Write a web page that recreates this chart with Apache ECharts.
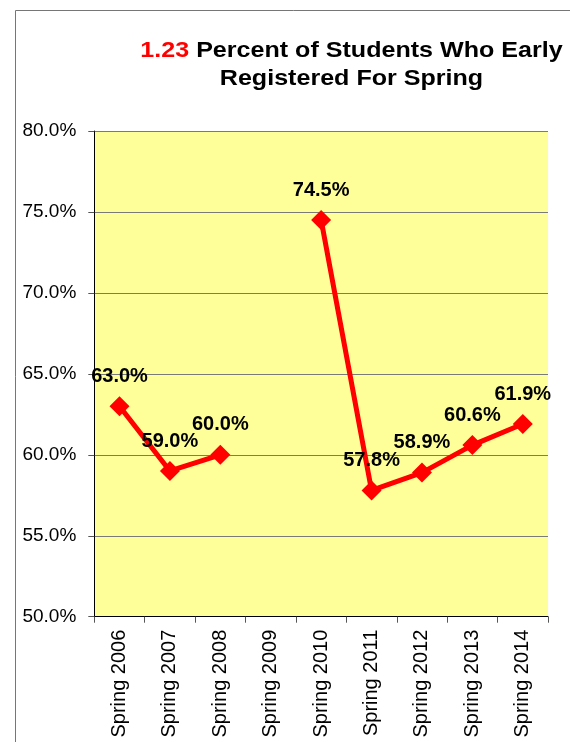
<!DOCTYPE html>
<html>
<head>
<meta charset="utf-8">
<script src="https://cdn.jsdelivr.net/npm/echarts@6/dist/echarts.min.js"></script>
<style>
html,body{margin:0;padding:0;background:#fff;}
#chart{width:570px;height:742px;}
</style>
</head>
<body>
<div id="chart"></div>
<script>
// ---- data ----
const categories = ['Spring 2006','Spring 2007','Spring 2008','Spring 2009','Spring 2010','Spring 2011','Spring 2012','Spring 2013','Spring 2014'];
const percentValues = [63.0, 59.0, 60.0, null, 74.5, 57.8, 58.9, 60.6, 61.9];
const yTicks = { min: 50, max: 80, step: 5 };
const titleNumber = '1.23';
const titleLine1 = 'Percent of Students Who Early';
const titleLine2 = 'Registered For Spring';

const FONT = '"Liberation Sans", Arial, sans-serif';
const chart = echarts.init(document.getElementById('chart'), null, {renderer: 'canvas'});

chart.setOption({
  animation: false,
  backgroundColor: '#ffffff',
  graphic: [
    {
      type: 'rect',
      silent: true,
      shape: { x: 15.5, y: 10.5, width: 800, height: 900 },
      style: { fill: null, stroke: '#767676', lineWidth: 1 }
    },
    {
      type: 'text',
      silent: true,
      x: 351.5,
      y: 36.5,
      scaleX: 1.14,
      style: {
        text: '{r|' + titleNumber + '} ' + titleLine1 + '\n' + titleLine2,
        align: 'center',
        verticalAlign: 'top',
        font: 'bold 22px ' + FONT,
        lineHeight: 28.5,
        fill: '#000000',
        rich: {
          r: { fill: '#ff0000', font: 'bold 22px ' + FONT, lineHeight: 28.5 }
        }
      }
    }
  ],
  grid: {
    left: 94.3,
    right: 22,
    top: 131,
    bottom: 125.3,
    show: true,
    backgroundColor: '#FFFF99',
    borderWidth: 0,
    containLabel: false
  },
  xAxis: {
    type: 'category',
    data: categories,
    boundaryGap: true,
    axisLine: { show: true, lineStyle: { color: '#000000', width: 1 } },
    axisTick: { show: true, length: 6, inside: false, alignWithLabel: false, lineStyle: { color: '#555555' } },
    axisLabel: {
      rotate: 90,
      margin: 13,
      interval: 0,
      color: '#000000',
      fontFamily: FONT,
      fontSize: 20
    },
    splitLine: { show: false }
  },
  yAxis: {
    type: 'value',
    min: yTicks.min,
    max: yTicks.max,
    interval: yTicks.step,
    axisLine: { show: true, lineStyle: { color: '#000000', width: 1 } },
    axisTick: { show: true, length: 6, inside: false, lineStyle: { color: '#555555' } },
    axisLabel: {
      margin: 18,
      color: '#000000',
      fontFamily: FONT,
      fontSize: 19,
      formatter: v => v.toFixed(1) + '%'
    },
    splitLine: { show: true, lineStyle: { color: '#7a7a7a', width: 1 } }
  },
  series: [{
    type: 'line',
    data: percentValues,
    connectNulls: false,
    symbol: 'diamond',
    symbolSize: 20,
    showAllSymbol: true,
    lineStyle: { color: '#ff0000', width: 5 },
    itemStyle: { color: '#ff0000' },
    label: {
      show: true,
      position: 'top',
      distance: 10,
      color: '#000000',
      fontFamily: FONT,
      fontWeight: 'bold',
      fontSize: 20,
      formatter: p => p.value.toFixed(1) + '%'
    }
  }]
});
</script>
</body>
</html>
